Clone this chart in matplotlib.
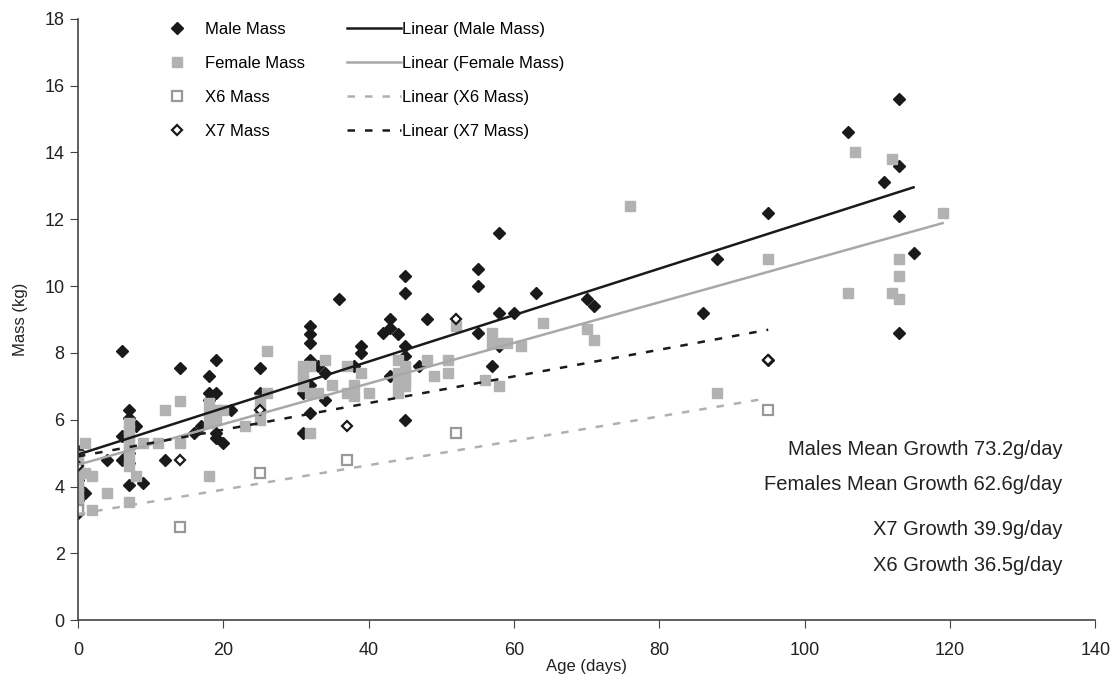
import numpy as np
import matplotlib
matplotlib.use("Agg")
import matplotlib.pyplot as plt
from matplotlib.lines import Line2D

plt.rcParams["font.family"] = ["Liberation Sans", "DejaVu Sans"]

# Data: age in days, mass in kg
# (some male points sit hidden under the female squares at day 0 and day 7)
male_days = [0, 0, 0, 0, 0, 0, 0, 0, 1, 4, 6, 6, 6, 7, 7, 7, 7, 7, 8, 9, 12, 14, 16, 17, 18, 18, 18, 19, 19, 19, 19, 20, 21,
             25, 25, 31, 31, 32, 32, 32, 32, 32, 32, 33, 34, 34, 36, 38, 39, 39, 42, 43, 43, 43, 44,
             45, 45, 45, 45, 45, 47, 48, 55, 55, 55, 57, 58, 58, 58, 60, 63, 70, 71, 86, 88, 95, 95,
             106, 111, 113, 113, 113, 113, 115]
male_mass = [5.05, 3.2, 4.0, 4.2, 4.4, 3.6, 3.9, 4.5, 3.8, 4.8, 4.8, 5.5, 8.05, 6.3, 6.05, 4.05, 5.0, 4.7, 5.8, 4.1, 4.8, 7.55, 5.6, 5.8, 7.3, 6.8, 6.6, 7.8, 6.8, 5.45, 5.6, 5.3, 6.3,
             7.55, 6.8, 6.8, 5.6, 8.8, 8.55, 8.3, 7.8, 7.05, 6.2, 7.6, 7.4, 6.6, 9.6, 7.6, 8.2, 8.0, 8.6, 9.0, 8.75, 7.3, 8.55,
             10.3, 9.8, 8.2, 7.9, 6.0, 7.6, 9.0, 10.5, 10.0, 8.6, 7.6, 11.6, 9.2, 8.2, 9.2, 9.8, 9.6, 9.4, 9.2, 10.8, 12.2, 7.8,
             14.6, 13.1, 15.6, 13.6, 12.1, 8.6, 11.0]

female_days = [0, 0, 0, 0, 0, 0, 0, 0, 1, 1, 2, 2, 4,
               7, 7, 7, 7, 7, 7, 7, 7, 8, 9, 11, 12, 14, 14, 18, 18, 18, 18, 19, 19, 20, 23,
               25, 25, 25, 26, 26, 31, 31, 31, 31, 32, 32, 32, 33, 34, 35, 37, 37, 38, 38, 39, 40,
               44, 44, 44, 44, 45, 45, 45, 45, 48, 49, 51, 51, 52, 56, 57, 57, 58, 58, 59, 61, 64,
               70, 71, 76, 88, 95, 106, 107, 112, 112, 113, 113, 113, 119]
female_mass = [4.9, 4.6, 4.4, 4.2, 4.0, 3.8, 3.6, 3.5, 5.3, 4.4, 4.3, 3.3, 3.8,
               5.9, 5.7, 5.5, 5.3, 5.1, 4.8, 4.6, 3.55, 4.3, 5.3, 5.3, 6.3, 6.55, 5.3, 6.5, 6.2, 5.9, 4.3, 6.3, 6.0, 6.3, 5.8,
               6.6, 6.3, 6.0, 8.05, 6.8, 7.6, 7.4, 7.2, 7.0, 7.6, 6.8, 5.6, 6.8, 7.8, 7.05, 7.6, 6.8, 7.05, 6.7, 7.4, 6.8,
               7.8, 7.4, 7.1, 6.8, 7.6, 7.4, 7.2, 7.0, 7.8, 7.3, 7.8, 7.4, 8.8, 7.2, 8.6, 8.3, 8.3, 7.0, 8.3, 8.2, 8.9,
               8.7, 8.4, 12.4, 6.8, 10.8, 9.8, 14.0, 13.8, 9.8, 10.8, 10.3, 9.6, 12.2]

x6_days = [0, 14, 25, 37, 52, 95]
x6_mass = [3.3, 2.8, 4.4, 4.8, 5.6, 6.3]

x7_days = [0, 14, 25, 37, 52, 95]
x7_mass = [4.6, 4.8, 6.3, 5.8, 9.0, 7.8]

growth_notes = ["Males Mean Growth 73.2g/day", "Females Mean Growth 62.6g/day",
                "X7 Growth 39.9g/day", "X6 Growth 36.5g/day"]

dark = "#1a1a1a"
grey = "#b2b2b2"

fig = plt.figure(figsize=(11.13, 6.96), dpi=100)
ax = fig.add_axes([0.070, 0.109, 0.914, 0.864])

# scatter points
ax.plot(male_days, male_mass, "D", color=dark, ms=6.5, mec=dark, zorder=2)
ax.plot(female_days, female_mass, "s", color=grey, ms=7.5, mec=grey, zorder=3)
ax.plot(x6_days, x6_mass, "s", mfc="white", mec="#999999", mew=1.6, ms=6.5, zorder=4)
ax.plot(x7_days, x7_mass, "D", mfc="white", mec=dark, mew=1.6, ms=5.5, zorder=5)

# linear trend lines
def trend(days, mass, **kw):
    slope, icpt = np.polyfit(days, mass, 1)
    xs = np.array([min(days), max(days)])
    ax.plot(xs, icpt + slope * xs, zorder=6, **kw)

trend(male_days, male_mass, color=dark, lw=1.8)
trend(female_days, female_mass, color="#a8a8a8", lw=1.8)
trend(x6_days, x6_mass, color="#b0b0b0", lw=1.8, ls=(0, (3, 4)))
trend(x7_days, x7_mass, color=dark, lw=1.8, ls=(0, (3, 4)))

ax.set_xlim(0, 140)
ax.set_ylim(0, 18)
ax.set_xticks(range(0, 141, 20))
ax.set_yticks(range(0, 19, 2))
ax.tick_params(labelsize=13, color="#444444", length=6, labelcolor="#222222")
ax.tick_params(axis="x", pad=10)
for s in ["top", "right"]:
    ax.spines[s].set_visible(False)
for s in ["left", "bottom"]:
    ax.spines[s].set_color("#444444")
    ax.spines[s].set_linewidth(1.2)
ax.spines["left"].set_zorder(7)
ax.set_xlabel("Age (days)", fontsize=12, color="#222222", labelpad=0)
ax.set_ylabel("Mass (kg)", fontsize=12, color="#222222", labelpad=12)

# legends
mk = [Line2D([], [], ls="", marker="D", color=dark, ms=6.5),
      Line2D([], [], ls="", marker="s", color=grey, ms=7.5),
      Line2D([], [], ls="", marker="s", mfc="white", mec="#999999", mew=1.6, ms=6.5),
      Line2D([], [], ls="", marker="D", mfc="white", mec=dark, mew=1.6, ms=5.5)]
leg1 = ax.legend(mk, ["Male Mass", "Female Mass", "X6 Mass", "X7 Mass"],
                 loc="upper left", bbox_to_anchor=(0.074, 1.02), frameon=False,
                 fontsize=12, handlelength=1.0, handletextpad=1.2, labelspacing=1.15)
ax.add_artist(leg1)
ln = [Line2D([], [], color=dark, lw=1.8),
      Line2D([], [], color="#a8a8a8", lw=1.8),
      Line2D([], [], color="#b0b0b0", lw=1.8, ls=(0, (3, 4))),
      Line2D([], [], color=dark, lw=1.8, ls=(0, (3, 4)))]
ax.legend(ln, ["Linear (Male Mass)", "Linear (Female Mass)", "Linear (X6 Mass)", "Linear (X7 Mass)"],
          loc="upper left", bbox_to_anchor=(0.25, 1.02), frameon=False,
          fontsize=12, handlelength=3.2, handletextpad=0.1, labelspacing=1.15)

# growth annotations
for note, yy in zip(growth_notes, [5.1, 4.05, 2.7, 1.65]):
    ax.text(135.5, yy, note, ha="right", va="center", fontsize=14.5, color="#222222")

fig.savefig("out.png", dpi=100)
